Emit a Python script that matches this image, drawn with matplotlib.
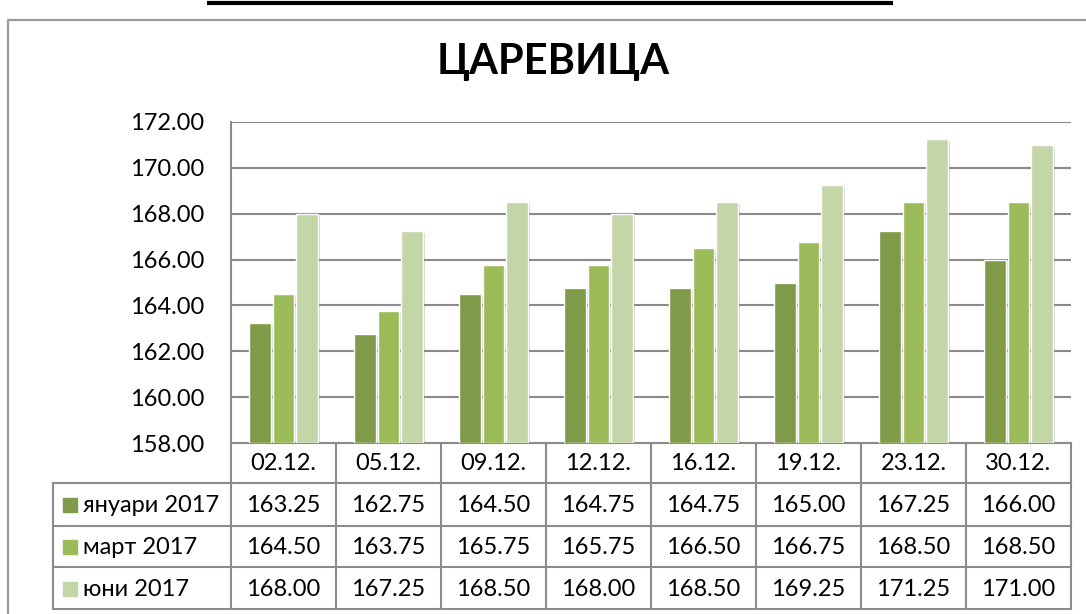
import matplotlib
matplotlib.use("Agg")
import matplotlib.pyplot as plt
import matplotlib.patheffects as pe
import numpy as np

# ---------------- data ----------------
categories = ["02.12.", "05.12.", "09.12.", "12.12.", "16.12.", "19.12.", "23.12.", "30.12."]
series_names = ["януари 2017", "март 2017", "юни 2017"]
jan_2017 = [163.25, 162.75, 164.50, 164.75, 164.75, 165.00, 167.25, 166.00]
mar_2017 = [164.50, 163.75, 165.75, 165.75, 166.50, 166.75, 168.50, 168.50]
jun_2017 = [168.00, 167.25, 168.50, 168.00, 168.50, 169.25, 171.25, 171.00]
y_ticks = [158, 160, 162, 164, 166, 168, 170, 172]
title = "ЦАРЕВИЦА"

series = [jan_2017, mar_2017, jun_2017]
colors = ["#7F9A48", "#9BBB59", "#C4D6A8"]

plt.rcParams['font.family'] = ['Lato', 'DejaVu Sans']

W, H = 1086, 614
fig = plt.figure(figsize=(W / 100, H / 100), dpi=100)

# pixel layout
PL, PR, PT, PB = 231, 1071, 122, 443
def fx(x):
    return x / W
def fy(y):
    return 1 - y / H

# overlay axes in pixel coordinates for frame / table
ov = fig.add_axes([0, 0, 1, 1])
ov.set_xlim(0, W)
ov.set_ylim(H, 0)
ov.axis("off")

# outer frame
ov.plot([8, 8, W + 5], [H + 5, 20, 20], color="#9a9a9a", lw=1.6, solid_capstyle="butt")
# cut-off underlined header at top
ov.plot([207, 893], [2.5, 2.5], color="black", lw=3.0, solid_capstyle="butt")

# bar axes
ax = fig.add_axes([fx(PL), fy(PB), fx(PR) - fx(PL), fy(PT) - fy(PB)])
n = len(categories)
x = np.arange(n)
offs = [-0.224, 0.0, 0.224]
bw = 0.205
for s, vals, c, o in zip(series_names, series, colors, offs):
    bars = ax.bar(x + o, np.array(vals) - y_ticks[0], bottom=y_ticks[0], width=bw,
                  color=c, edgecolor="white", linewidth=1.0, zorder=3, label=s)
    for b in bars:
        b.set_path_effects([pe.SimplePatchShadow(offset=(1.5, -1.5), shadow_rgbFace="#000000", alpha=0.18),
                            pe.Normal()])
ax.set_xlim(-0.5, n - 0.5)
ax.set_ylim(y_ticks[0], y_ticks[-1])
ax.set_yticks(y_ticks)
ax.set_yticklabels([f"{v:.2f}" for v in y_ticks], fontsize=17)
ax.tick_params(axis="y", length=0, pad=19)
ax.set_xticks([])
ax.grid(axis="y", color="#8a8a8a", lw=1.5, zorder=0)
for sp in ["top", "right", "bottom"]:
    ax.spines[sp].set_visible(False)
ax.spines["left"].set_color("#8a8a8a")
ax.spines["left"].set_linewidth(1.5)

# title
fig.text(0.5095, fy(62), title, ha="center", va="center", fontsize=30, fontweight="bold")

# ---------------- data table ----------------
lc = "#8c8c8c"
lw = 1.5
row_y = [443, 483, 526, 567, 609]
LL = 53
colw = (PR - PL) / n
# horizontal lines
ov.plot([PL, PR], [row_y[0], row_y[0]], color=lc, lw=lw)
for yy in row_y[1:]:
    ov.plot([LL, PR], [yy, yy], color=lc, lw=lw)
# vertical lines
ov.plot([LL, LL], [row_y[1], row_y[-1]], color=lc, lw=lw)
for i in range(n + 1):
    xx = PL + i * colw
    ov.plot([xx, xx], [row_y[0], row_y[-1]], color=lc, lw=lw)

# header
for i, cat in enumerate(categories):
    ov.text(PL + (i + 0.5) * colw, (row_y[0] + row_y[1]) / 2 + 1, cat,
            ha="center", va="center", fontsize=17)
# rows
for r, (name, vals, c) in enumerate(zip(series_names, series, colors)):
    yc = (row_y[r + 1] + row_y[r + 2]) / 2 + 1
    ov.add_patch(plt.Rectangle((63, yc - 7.5), 14, 14, color=c))
    ov.text(83, yc, name, ha="left", va="center", fontsize=17)
    for i, v in enumerate(vals):
        ov.text(PL + (i + 0.5) * colw, yc, f"{v:.2f}", ha="center", va="center", fontsize=17)

fig.savefig("out.png", dpi=100)
